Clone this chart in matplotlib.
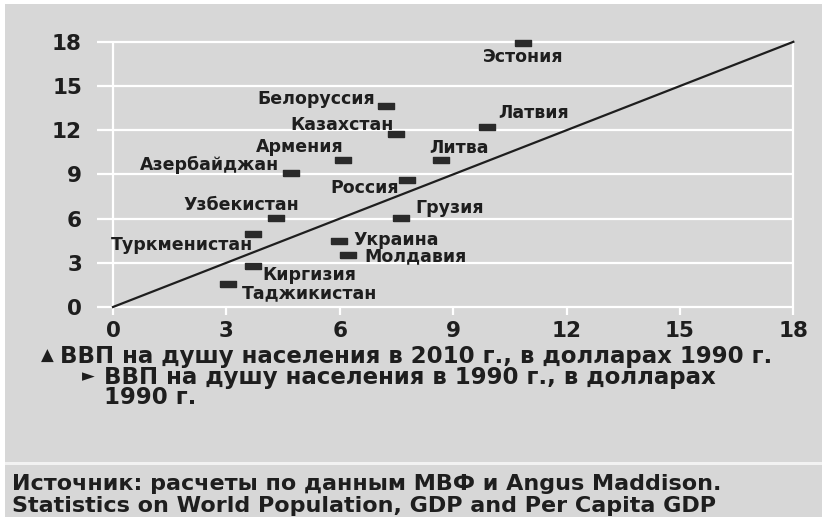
import numpy as np
import matplotlib.pyplot as plt
from matplotlib.patches import Rectangle

# GDP per capita, thousands of 1990 dollars
countries = ["Эстония", "Белоруссия", "Казахстан", "Армения", "Азербайджан",
             "Россия", "Латвия", "Литва", "Грузия", "Узбекистан",
             "Туркменистан", "Украина", "Молдавия", "Киргизия", "Таджикистан"]
gdp_1990 = [10.85, 7.22, 7.49, 6.09, 4.70, 7.79, 9.90, 8.67, 7.63, 4.31,
            3.71, 5.99, 6.22, 3.70, 3.03]
gdp_2010 = [17.9, 13.65, 11.74, 9.98, 9.12, 8.62, 12.24, 9.98, 6.04, 6.02,
            4.96, 4.48, 3.53, 2.78, 1.56]
ticks = [0, 3, 6, 9, 12, 15, 18]

legend_2010 = "ВВП на душу населения в 2010 г., в долларах 1990 г."
legend_1990 = "ВВП на душу населения в 1990 г., в долларах\n1990 г."
source_lines = ["Источник: расчеты по данным МВФ и Angus Maddison.",
                "Statistics on World Population, GDP and Per Capita GDP"]

# label placement: (dx, dy) in points, horizontal alignment
label_pos = {
    "Эстония": (0, -10, "center"),
    "Белоруссия": (-8, 5, "right"),
    "Казахстан": (-2, 6.5, "right"),
    "Армения": (0, 9.4, "right"),
    "Азербайджан": (-8.6, 5.8, "right"),
    "Россия": (-6.5, -5.8, "right"),
    "Латвия": (8, 10, "left"),
    "Литва": (-8.6, 8.6, "left"),
    "Грузия": (10, 7, "left"),
    "Узбекистан": (16.5, 9.5, "right"),
    "Туркменистан": (0, -8, "right"),
    "Украина": (10, 0.5, "left"),
    "Молдавия": (12, -1.2, "left"),
    "Киргизия": (7.2, -6.5, "left"),
    "Таджикистан": (10, -6.5, "left"),
}

bg = "#d7d7d7"
ink = "#1e1e1e"
plt.rcParams["font.family"] = ["DejaVu Sans"]

fig = plt.figure(figsize=(8.22, 5.17), dpi=100, facecolor=bg)
ax = fig.add_axes([0.1099, 0.3834, 0.8828, 0.5528])
ax.set_facecolor("none")
ax.set_xlim(-0.6, 18.6)
ax.set_ylim(-0.8, 18.6)
for s in ax.spines.values():
    s.set_visible(False)

# white grid
ax.hlines(ticks, -0.42, ticks[-1], color="white", lw=1.6, zorder=1)
ax.vlines([ticks[0], ticks[-1]], -0.55, ticks[-1], color="white", lw=1.6, zorder=1)
ax.vlines(ticks[1:-1], -0.55, 0, color="white", lw=1.6, zorder=1)

# 45 degree line
ax.plot([ticks[0], ticks[-1]], [ticks[0], ticks[-1]], color=ink, lw=1.6, zorder=2)

rect = [(-1, -0.45), (1, -0.45), (1, 0.45), (-1, 0.45), (-1, -0.45)]
ax.plot(gdp_1990, gdp_2010, linestyle="none", marker=rect, markersize=11,
        color="#2a2a2a", zorder=3)

for name, x, y in zip(countries, gdp_1990, gdp_2010):
    dx, dy, ha = label_pos[name]
    ax.annotate(name, (x, y), xytext=(dx, dy), textcoords="offset points",
                ha=ha, va="center", fontsize=12.5, fontweight="bold", color=ink,
                zorder=4)

ax.set_xticks(ticks)
ax.set_yticks(ticks)
ax.tick_params(length=0, labelsize=15.5, labelcolor=ink)
ax.tick_params(axis="x", pad=1.5)
ax.tick_params(axis="y", pad=6)
for lab in ax.get_xticklabels() + ax.get_yticklabels():
    lab.set_fontweight("bold")

# legend notes
fig.text(47 / 822, 1 - 356 / 517, "▲", ha="center", va="center", fontsize=12, color=ink)
fig.text(60 / 822, 1 - 356 / 517, legend_2010, ha="left", va="center",
         fontsize=16.5, fontweight="bold", color=ink)
fig.text(88 / 822, 1 - 376 / 517, "►", ha="center", va="center", fontsize=12, color=ink)
fig.text(104 / 822, 1 - 366 / 517, legend_1990, ha="left", va="top",
         fontsize=16.5, fontweight="bold", color=ink, linespacing=0.85)

# white frame and separator
fig.patches.append(Rectangle((0, 1 - 4 / 517), 1, 4 / 517, transform=fig.transFigure,
                             facecolor="white", edgecolor="none", zorder=0))
fig.patches.append(Rectangle((0, 0), 5 / 822, 1, transform=fig.transFigure,
                             facecolor="white", edgecolor="none", zorder=0))
fig.patches.append(Rectangle((5 / 822, 1 - 465 / 517), 1, 3 / 517, transform=fig.transFigure,
                             facecolor="#f2f2f2", edgecolor="none", zorder=0))

for line, base in zip(source_lines, [490, 512]):
    fig.text(12 / 822, 1 - base / 517, line, ha="left", va="baseline",
             fontsize=16, fontweight="bold", color=ink)

fig.savefig("out.png", dpi=100, facecolor=bg)
